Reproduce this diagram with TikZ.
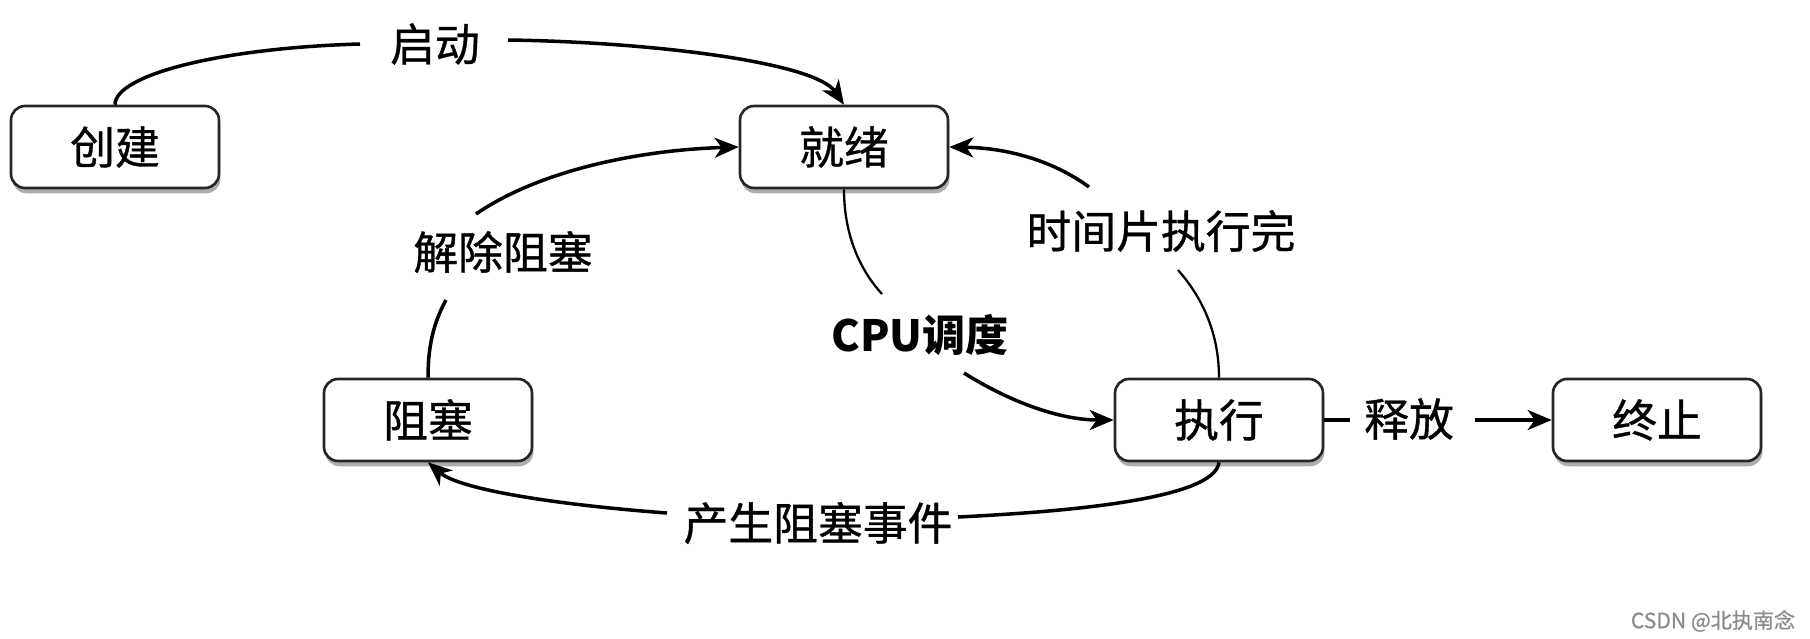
\documentclass[tikz,border=0pt]{standalone}
\usepackage{fontspec}
\setmainfont{Noto Sans CJK SC}[UprightFeatures={FakeBold=0.8}]
\usetikzlibrary{arrows.meta,shadows}
\begin{document}
\begin{tikzpicture}[x=0.02cm,y=-0.02cm,
  box/.style={draw=black!85, line width=1.5pt, rounded corners=0.28cm, fill=white,
    minimum width=4.16cm, minimum height=1.64cm, inner sep=0pt,
    font=\fontsize{25.5pt}{30pt}\selectfont,
    drop shadow={shadow xshift=0.8pt, shadow yshift=-3pt, opacity=0.4, fill=black!80}},
  lbl/.style={font=\fontsize{25.5pt}{30pt}\selectfont, inner sep=0pt},
  conn/.style={line width=2pt, draw=black},
  thinconn/.style={line width=1.3pt, draw=black},
  tip/.style={-{Stealth[length=0.48cm,width=0.4cm,inset=0.14cm]}}
]
\useasboundingbox (0,0) rectangle (1810,639);

% boxes
\node[box] (cj) at (115,147) {创建};
\node[box] (jx) at (844,147) {就绪};
\node[box] (zs) at (428,420) {阻塞};
\node[box] (zx) at (1219,420) {执行};
\node[box] (zz) at (1657,420) {终止};

% labels
\node[lbl] (l1) at (435,44) {启动};
\node[lbl] (l2) at (503,252) {解除阻塞};
\node[lbl, font=\fontsize{24.5pt}{30pt}\selectfont\bfseries] (l3) at (920,335) {CPU调度};
\node[lbl] (l4) at (1161,231) {时间片执行完};
\node[lbl] (l5) at (1409,419) {释放};
\node[lbl] (l6) at (818,523) {产生阻塞事件};

% free ends of split connectors
\coordinate (a1) at (360,44);
\coordinate (a2) at (508,40);
\coordinate (b1) at (446,300);
\coordinate (b2) at (476,214);
\coordinate (c1) at (882,294);
\coordinate (c2) at (964,373);
\coordinate (d1) at (1178,270);
\coordinate (d2) at (1089,187);
\coordinate (e1) at (958,517);
\coordinate (e2) at (667,513);
\coordinate (f1) at (1350,420);
\coordinate (f2) at (1475,420);

% 启动
\draw[conn] (cj.north) .. controls (115,75) and (220,48) .. (a1);
\draw[conn,tip] (a2) .. controls (650,42) and (815,62) .. (jx.north);

% 解除阻塞
\draw[conn] (zs.north) .. controls (428,345) and (434,322) .. (b1);
\draw[conn,tip] (b2) .. controls (540,170) and (640,150) .. (jx.west);

% CPU调度
\draw[thinconn] (jx.south) .. controls (844,235) and (860,270) .. (c1);
\draw[conn,tip] (c2) .. controls (1010,402) and (1060,420) .. (zx.west);

% 时间片执行完
\draw[thinconn] (zx.north) .. controls (1219,330) and (1200,295) .. (d1);
\draw[conn,tip] (d2) .. controls (1055,162) and (1010,148) .. (jx.east);

% 产生阻塞事件
\draw[conn] (zx.south) .. controls (1215,500) and (1060,512) .. (e1);
\draw[conn,tip] (e2) .. controls (560,505) and (460,490) .. (zs.south);

% 释放
\draw[conn] (zx.east) -- (f1);
\draw[conn,tip] (f2) -- (zz.west);

% watermark
\node[font=\fontsize{12pt}{14pt}\selectfont, text=black!45, inner sep=0pt] (wm) at (1713,621) {CSDN @北执南念};
\end{tikzpicture}
\end{document}
